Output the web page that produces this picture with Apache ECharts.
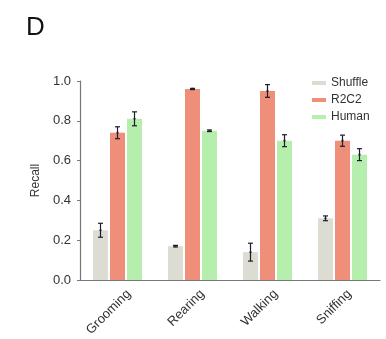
<!DOCTYPE html>
<html>
<head>
<meta charset="utf-8">
<script src="https://cdn.jsdelivr.net/npm/echarts@6/dist/echarts.min.js"></script>
<style>
  html, body { margin: 0; padding: 0; background: #fff; }
  #chart { width: 386px; height: 339px; }
</style>
</head>
<body>
<div id="chart"></div>
<script>
// Behaviours on the x axis
const categories = ['Grooming', 'Rearing', 'Walking', 'Sniffing'];
const seriesNames = ['Shuffle', 'R2C2', 'Human'];

// Mean recall per behaviour
const shuffleValues = [0.25, 0.17, 0.14, 0.31];
const r2c2Values    = [0.74, 0.96, 0.95, 0.70];
const humanValues   = [0.81, 0.75, 0.70, 0.63];

// Error-bar half widths
const shuffleErr = [0.035, 0.004, 0.045, 0.012];
const r2c2Err    = [0.03, 0.003, 0.032, 0.028];
const humanErr   = [0.035, 0.004, 0.03, 0.03];

const yTicks = [0.0, 0.2, 0.4, 0.6, 0.8, 1.0];

const colors = ['#dcdcd3', '#ef8e79', '#b6eeae'];
const BAR_W = 15;
const BAR_STEP = 17; // bar width plus gap

const values = [shuffleValues, r2c2Values, humanValues];
const errors = [shuffleErr, r2c2Err, humanErr];

const FONT = 'Liberation Sans, Arial, sans-serif';

function errorSeries(idx) {
  const offset = (idx - 1) * BAR_STEP;
  return {
    type: 'custom',
    name: seriesNames[idx] + ' err',
    z: 5,
    silent: true,
    data: values[idx].map((v, i) => [i, v, errors[idx][i]]),
    renderItem: function (params, api) {
      const c = api.value(0), v = api.value(1), e = api.value(2);
      const hi = api.coord([c, v + e]);
      const lo = api.coord([c, v - e]);
      const x = hi[0] + offset;
      const cap = 2.5;
      const style = { stroke: '#1d1d2a', lineWidth: 1.2 };
      return {
        type: 'group',
        children: [
          { type: 'line', shape: { x1: x, y1: hi[1], x2: x, y2: lo[1] }, style },
          { type: 'line', shape: { x1: x - cap, y1: hi[1], x2: x + cap, y2: hi[1] }, style },
          { type: 'line', shape: { x1: x - cap, y1: lo[1], x2: x + cap, y2: lo[1] }, style },
          { type: 'circle', shape: { cx: x, cy: api.coord([c, v])[1], r: 1.1 }, style: { fill: '#1d1d2a' } }
        ]
      };
    }
  };
}

const chart = echarts.init(document.getElementById('chart'), null, { renderer: 'canvas' });
chart.setOption({
  backgroundColor: '#ffffff',
  animation: false,
  title: {
    text: 'D',
    left: 21,
    top: 10,
    textStyle: { fontFamily: FONT, fontSize: 26, fontWeight: 'normal', color: '#111' }
  },
  legend: {
    data: seriesNames,
    orient: 'vertical',
    left: 307,
    top: 72,
    itemWidth: 14,
    itemHeight: 4,
    itemGap: 5,
    icon: 'rect',
    textStyle: { fontFamily: FONT, fontSize: 12, color: '#333', lineHeight: 12 }
  },
  grid: [
    { left: 80, width: 300, top: 81, bottom: 59, containLabel: false },
    // label row for the category names, set slightly right of the bar groups
    { left: 92, width: 300, top: 81, bottom: 59, containLabel: false }
  ],
  xAxis: [
    {
      type: 'category',
      gridIndex: 0,
      data: categories,
      axisLine: { lineStyle: { color: '#777', width: 1.2 } },
      axisTick: { show: false },
      axisLabel: { show: false }
    },
    {
      type: 'category',
      gridIndex: 1,
      data: categories,
      axisLine: { show: false },
      axisTick: { show: false },
      axisLabel: {
        rotate: 45,
        margin: 12,
        fontFamily: FONT,
        fontSize: 13,
        color: '#333'
      }
    }
  ],
  yAxis: [
    {
      type: 'value',
      gridIndex: 0,
      min: 0,
      max: 1,
      interval: 0.2,
      name: 'Recall',
      nameLocation: 'middle',
      nameGap: 38,
      nameTextStyle: { fontFamily: FONT, fontSize: 12, color: '#333' },
      splitLine: { show: false },
      axisLine: { show: true, lineStyle: { color: '#777', width: 1.2 } },
      axisTick: { show: true, length: 3, lineStyle: { color: '#777' } },
      axisLabel: {
        margin: 9,
        fontFamily: FONT,
        fontSize: 13,
        color: '#333',
        formatter: v => yTicks.includes(+v.toFixed(1)) ? v.toFixed(1) : ''
      }
    },
    {
      type: 'value',
      gridIndex: 1,
      min: 0,
      max: 1,
      show: false
    }
  ],
  series: [
    ...seriesNames.map((n, i) => ({
      type: 'bar',
      name: n,
      data: values[i],
      barWidth: BAR_W,
      barGap: ((BAR_STEP - BAR_W) / BAR_W * 100) + '%',
      itemStyle: { color: colors[i] }
    })),
    errorSeries(0), errorSeries(1), errorSeries(2)
  ]
});
</script>
</body>
</html>
